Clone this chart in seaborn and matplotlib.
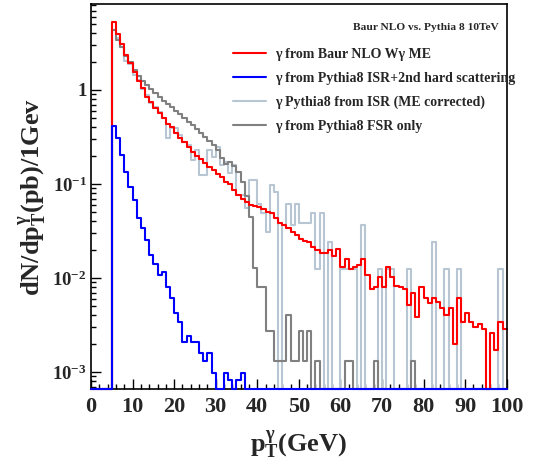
import numpy as np
import pandas as pd
import matplotlib
matplotlib.use("Agg")
import matplotlib.pyplot as plt
from matplotlib.ticker import MultipleLocator, LogLocator, NullFormatter
from matplotlib.font_manager import FontProperties
import seaborn as sns

# ---------------- data (values per 1 GeV bin, starting at bin 5) ----------------
first_bin = 5
pt_edges = list(range(0, 101))

baur_nlo_me = [
    5.3, 3.94, 3.09, 2.36, 1.92, 1.57, 1.25, 1.04, 0.85, 0.74,
    0.65, 0.565, 0.50, 0.44, 0.40, 0.35, 0.31, 0.28, 0.25, 0.22,
    0.20, 0.183, 0.166, 0.153, 0.141, 0.128, 0.118, 0.106, 0.099, 0.086,
    0.076, 0.070, 0.065, 0.060, 0.059, 0.0565, 0.054, 0.050, 0.049, 0.043,
    0.038, 0.0366, 0.0338, 0.031, 0.0285, 0.026, 0.025, 0.024, 0.0215, 0.0199,
    0.0186, 0.0186, 0.0199, 0.0171, 0.0204, 0.0132, 0.0159, 0.0124, 0.0130, 0.0138,
    0.0159, 0.0108, 0.0076, 0.0081, 0.0103, 0.0081, 0.0130, 0.0103, 0.0082, 0.0080,
    0.0076, 0.0052, 0.0069, 0.0038, 0.0080, 0.0061, 0.0054, 0.0061, 0.0055, 0.0048,
    0.0040, 0.0048, 0.0020, 0.0061, 0.0034, 0.0042, 0.0034, 0.0030, 0.0032, 0.0029,
    0.0, 0.0026, 0.0017, 0.0034, 0.0029,
]

pythia_isr_2nd_hard = [
    0.414, 0.306, 0.204, 0.135, 0.094, 0.068, 0.043, 0.034, 0.0254, 0.0176,
    0.0141, 0.0108, 0.0117, 0.0081, 0.0061, 0.0042, 0.0034, 0.0021, 0.0024, 0.0021,
    0.0021, 0.0016, 0.0013, 0.0016, 0.00097, 0.0, 0.0, 0.00097, 0.00082, 0.0,
    0.00082, 0.00097,
]

pythia_isr_me_corr = [
    4.35, 3.6, 2.9, 2.05, 1.9, 1.45, 1.28, 1.02, 0.88, 0.72,
    0.66, 0.58, 0.50, 0.31, 0.39, 0.39, 0.33, 0.28, 0.26, 0.18,
    0.23, 0.125, 0.125, 0.23, 0.195, 0.25, 0.159, 0.173, 0.13, 0.159,
    0.076, 0.076, 0.055, 0.11, 0.11, 0.062, 0.049, 0.031, 0.098, 0.083,
    0.0, 0.037, 0.062, 0.037, 0.062, 0.038, 0.038, 0.038, 0.049, 0.0125,
    0.049, 0.0, 0.024, 0.0, 0.0, 0.0125, 0.0125, 0.0125, 0.0125, 0.0,
    0.037, 0.0, 0.0, 0.0, 0.0125, 0.0, 0.0125, 0.0125, 0.0, 0.0,
    0.0, 0.0125, 0.0, 0.0, 0.0, 0.0, 0.0, 0.024, 0.0, 0.0,
    0.0125, 0.0, 0.0, 0.0125, 0.0, 0.0, 0.0, 0.0, 0.0, 0.0,
    0.0, 0.0, 0.0, 0.0125, 0.0,
]

pythia_fsr_only = [
    4.3, 3.4, 2.9, 2.3, 2.0, 1.65, 1.42, 1.25, 1.12, 1.02,
    0.92, 0.84, 0.77, 0.71, 0.66, 0.60, 0.55, 0.50, 0.46, 0.42,
    0.38, 0.35, 0.32, 0.29, 0.26, 0.23, 0.19, 0.165, 0.17, 0.155,
    0.135, 0.105, 0.075, 0.045, 0.0127, 0.0081, 0.0081, 0.0027, 0.0027, 0.0013,
    0.0013, 0.0013, 0.004, 0.0013, 0.0013, 0.0027, 0.0013, 0.0027, 0.0, 0.0013,
    0.0, 0.0, 0.0, 0.0, 0.0, 0.0, 0.0013, 0.0013, 0.0, 0.0,
    0.0, 0.0, 0.0, 0.0013, 0.0, 0.0, 0.0, 0.0, 0.0, 0.0,
    0.0, 0.0, 0.0013,
]

series_labels = [
    "γ from Baur NLO Wγ ME",
    "γ from Pythia8 ISR+2nd hard scattering",
    "γ Pythia8 from ISR (ME corrected)",
    "γ from Pythia8 FSR only",
]
header_text = "Baur NLO vs. Pythia 8 10TeV"
x_ticks = [0, 10, 20, 30, 40, 50, 60, 70, 80, 90, 100]
y_ticks = [1e-3, 1e-2, 1e-1, 1.0]
y_tick_labels = [r"$10^{-3}$", r"$10^{-2}$", r"$10^{-1}$", "1"]
x_label = r"$p_{T}^{\gamma}(GeV)$"
y_label = r"$dN/dp_{T}^{\gamma}(pb)/1Gev$"

# ---------------- style ----------------
sns.set_theme(style="white")
SERIF = "Liberation Serif"
plt.rcParams["font.family"] = [SERIF, "DejaVu Serif"]
plt.rcParams["font.weight"] = "bold"
plt.rcParams["mathtext.fontset"] = "custom"
plt.rcParams["mathtext.rm"] = "Liberation Serif:bold"
plt.rcParams["mathtext.it"] = "Liberation Serif:bold"
plt.rcParams["mathtext.bf"] = "Liberation Serif:bold"
plt.rcParams["mathtext.sf"] = "Liberation Serif:bold"

Y_MIN, Y_MAX = 6.59e-4, 8.22

W, H = 538, 466
fig = plt.figure(figsize=(W / 100, H / 100), dpi=100)
ax = fig.add_axes([91 / W, 1 - 389 / H, (506.7 - 91) / W, (389 - 4) / H])
ax.set_yscale("log")


def to_steps(vals):
    h = np.zeros(len(pt_edges) - 1)
    h[first_bin:first_bin + len(vals)] = vals
    h = np.maximum(h, Y_MIN)
    return pd.DataFrame({"pT": pt_edges, "dN": np.append(h, h[-1])})


draw_specs = [
    (pythia_isr_me_corr, series_labels[2], "#b7c6d2", 2.0),
    (pythia_fsr_only, series_labels[3], "#808080", 2.1),
    (baur_nlo_me, series_labels[0], "#ff0000", 2.2),
    (pythia_isr_2nd_hard, series_labels[1], "#0000ff", 3.0),
]
for vals, lab, col, z in draw_specs:
    sns.lineplot(data=to_steps(vals), x="pT", y="dN", ax=ax, color=col,
                 linewidth=1.5, drawstyle="steps-post", estimator=None,
                 sort=False, label=lab, zorder=z, clip_on=False)

ax.set_xlim(0, 100)
ax.set_ylim(Y_MIN, Y_MAX)

# ticks
xtick_font = FontProperties(family=SERIF, weight="bold", size=16)
ytick_font = FontProperties(family=SERIF, weight="bold", size=13.5)
ax.set_xticks(x_ticks)
ax.set_xticklabels([str(t) for t in x_ticks], fontproperties=xtick_font)
ax.xaxis.set_minor_locator(MultipleLocator(2))
ax.set_yticks(y_ticks)
ax.set_yticklabels(y_tick_labels, fontproperties=ytick_font)
ax.yaxis.set_minor_locator(LogLocator(base=10, subs=np.arange(2, 10), numticks=30))
ax.yaxis.set_minor_formatter(NullFormatter())
ax.tick_params(axis="both", which="major", direction="in", length=7.5, width=1.0,
               color="black", bottom=True, left=True, top=False, right=False)
ax.tick_params(axis="both", which="minor", direction="in", length=3.8, width=1.0,
               color="black", bottom=True, left=True, top=False, right=False)
ax.tick_params(axis="x", which="major", pad=6)
ax.tick_params(axis="y", which="major", pad=3)

for sp in ax.spines.values():
    sp.set_color("black")
    sp.set_linewidth(1.2)
    sp.set_visible(True)

ax.set_xlabel(x_label, fontsize=19)
ax.set_ylabel(y_label, fontsize=19)
ax.xaxis.set_label_coords(0.5, -0.145)
ax.xaxis.label.set_va("center")
ax.yaxis.set_label_coords(-0.14, 0.5)
ax.yaxis.label.set_va("center")

# legend (order as in reference)
handles, labels = ax.get_legend_handles_labels()
hmap = dict(zip(labels, handles))
leg = ax.legend([hmap[l] for l in series_labels], series_labels,
                loc="upper left", bbox_to_anchor=(233 / W, 1 - 48 / H),
                bbox_transform=fig.transFigure, frameon=False,
                prop=FontProperties(family=SERIF, weight="bold", size=10),
                handlelength=2.4, handletextpad=0.6, labelspacing=0.78,
                borderpad=0, borderaxespad=0)

fig.text(499 / W, 1 - 27 / H, header_text, ha="right", va="center",
         fontsize=8.2, family=SERIF, weight="bold")

fig.savefig("out.png", dpi=100)
